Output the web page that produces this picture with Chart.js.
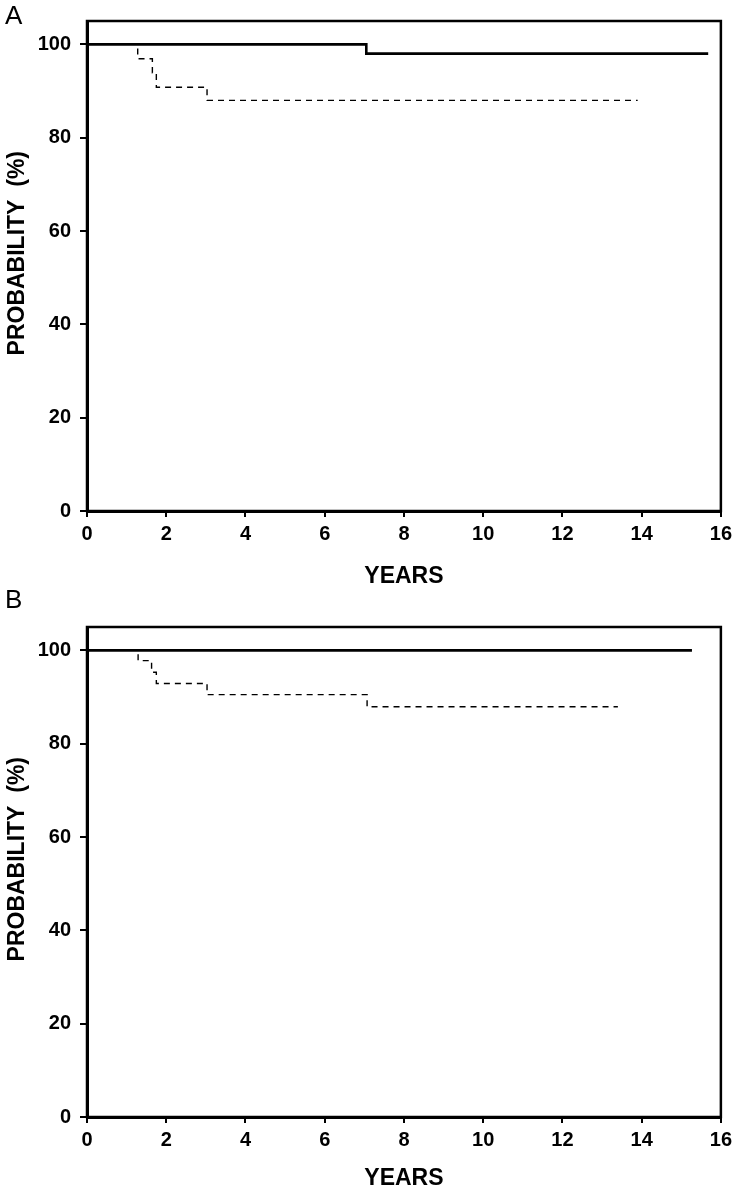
<!doctype html>
<html lang="en">
  <head>
    <meta charset="utf-8">
    <title>Probability by years - A and B</title>
    <style>
      body { margin: 0; background: #fff; }
      canvas { display: block; }
    </style>
  </head>
  <body>

<canvas id="panel_a" width="737" height="588"></canvas>
<canvas id="panel_b" width="737" height="600"></canvas>

<script src="https://cdn.jsdelivr.net/npm/chart.js"></script>
<script>
  // tick values
  var xTicks = [0, 2, 4, 6, 8, 10, 12, 14, 16];
  var yTicks = [0, 20, 40, 60, 80, 100];

  // panel A - solid curve
  var aSolidYears = [0, 7.05, 15.68];
  var aSolidProb  = [100, 98.0, 98.0];
  // panel A - dashed curve
  var aDashYears = [0, 1.28, 1.65, 1.75, 3.03, 13.9];
  var aDashProb  = [100, 96.9, 93.9, 90.8, 88.0, 88.0];

  // panel B - solid curve
  var bSolidYears = [0, 15.27];
  var bSolidProb  = [100, 100];
  // panel B - dashed curve
  var bDashYears = [0, 1.29, 1.63, 1.75, 3.03, 7.07, 13.4];
  var bDashProb  = [100, 97.8, 95.3, 92.9, 90.5, 87.9, 87.9];

  function pts(xs, ys) {
    return xs.map(function (x, i) { return { x: x, y: ys[i] }; });
  }

  // box around the plot + panel letter
  var framePlugin = {
    id: 'frame',
    afterDraw: function (chart, args, opts) {
      var ctx = chart.ctx, a = chart.chartArea;
      ctx.save();
      ctx.strokeStyle = '#000';
      ctx.lineWidth = 2.5;
      ctx.strokeRect(a.left, a.top, a.right - a.left, a.bottom - a.top);
      ctx.fillStyle = '#000';
      ctx.font = '26px "Liberation Sans", Arial, sans-serif';
      ctx.textBaseline = 'top';
      ctx.fillText(opts.letter, opts.lx, opts.ly);
      ctx.restore();
    }
  };

  function makeChart(id, solid, dashed, letter, top, xHeight, ly, titlePad) {
    var tickFont = { family: '"Liberation Sans", Arial, sans-serif', size: 20, weight: 'bold' };
    var titleFont = { family: '"Liberation Sans", Arial, sans-serif', size: 23, weight: 'bold' };
    return new Chart(document.getElementById(id), {
      type: 'line',
      data: {
        datasets: [
          {
            label: 'solid',
            data: solid,
            borderColor: '#000',
            borderWidth: 2.6,
            pointRadius: 0,
            stepped: 'before'
          },
          {
            label: 'dashed',
            data: dashed,
            borderColor: '#000',
            borderWidth: 1.4,
            borderDash: [6, 5],
            pointRadius: 0,
            stepped: 'before'
          }
        ]
      },
      options: {
        responsive: false,
        animation: false,
        layout: { padding: { top: top, right: 15, left: 0, bottom: 0 } },
        plugins: {
          legend: { display: false },
          tooltip: { enabled: false },
          frame: { letter: letter, lx: 5, ly: ly }
        },
        scales: {
          x: {
            type: 'linear',
            min: 0,
            max: 16,
            afterBuildTicks: function (s) { s.ticks = xTicks.map(function (v) { return { value: v }; }); },
            afterFit: function (s) { s.height = xHeight; },
            ticks: { color: '#000', font: tickFont, padding: 5, maxRotation: 0 },
            grid: { drawOnChartArea: false, color: '#000', lineWidth: 2, tickLength: 6 },
            border: { display: true, color: '#000', width: 3 },
            title: { display: true, text: 'YEARS', color: '#000', font: titleFont, padding: { top: titlePad, bottom: titlePad } }
          },
          y: {
            type: 'linear',
            min: 0,
            max: 105,
            afterBuildTicks: function (s) { s.ticks = yTicks.map(function (v) { return { value: v }; }); },
            afterFit: function (s) { s.width = 87; },
            ticks: { color: '#000', font: tickFont, padding: 9 },
            grid: { drawOnChartArea: false, color: '#000', lineWidth: 2, tickLength: 7 },
            border: { display: true, color: '#000', width: 3 },
            title: { display: true, text: '    PROBABILITY  (%)', color: '#000', font: titleFont, padding: { top: 4, bottom: 4 } }
          }
        }
      },
      plugins: [framePlugin]
    });
  }

  makeChart('panel_a', pts(aSolidYears, aSolidProb), pts(aDashYears, aDashProb), 'A', 21, 77, 4, -2);
  makeChart('panel_b', pts(bSolidYears, bSolidProb), pts(bDashYears, bDashProb), 'B', 39, 71, 0, -4);
</script>
  </body>
</html>
